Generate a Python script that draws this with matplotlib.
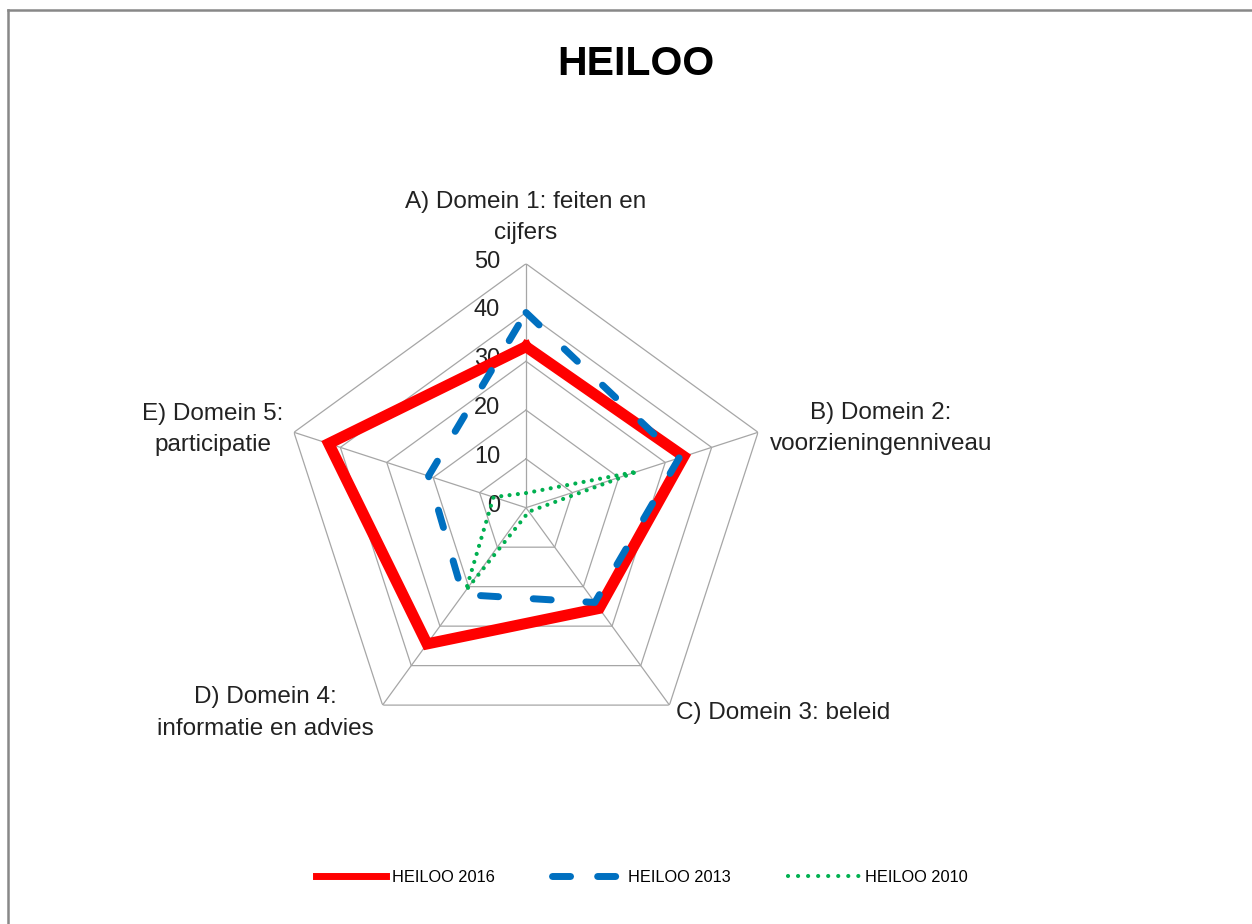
import numpy as np
import matplotlib
matplotlib.use("Agg")
import matplotlib.pyplot as plt
from matplotlib.lines import Line2D

# data
categories = ["A) Domein 1: feiten en\ncijfers",
              "B) Domein 2:\nvoorzieningenniveau",
              "C) Domein 3: beleid",
              "D) Domein 4:\ninformatie en advies",
              "E) Domein 5:\nparticipatie"]
heiloo_2016 = [33, 34, 25.5, 34.5, 42.5]
heiloo_2013 = [40, 33, 24, 22, 21]
heiloo_2010 = [3, 24, 1, 21, 7]
rings = [0, 10, 20, 30, 40, 50]

plt.rcParams["font.family"] = ["Liberation Sans", "DejaVu Sans"]

red = "#FF0000"
blue = "#0070C0"
green = "#00B050"
gridc = "#A6A6A6"

fig = plt.figure(figsize=(12.52, 9.24), dpi=100)

# centre of the radar at (526, 508) px, radius 244 px
cx, cy, rad = 526 / 1252, 1 - 507.7 / 924, 244
ax = fig.add_axes([cx - rad / 1252, cy - rad / 924, 2 * rad / 1252, 2 * rad / 924],
                  projection="polar")
ax.set_theta_zero_location("N")
ax.set_theta_direction(-1)
ax.set_ylim(0, 50)
ax.grid(False)
ax.set_xticks([])
ax.set_yticks([])
ax.spines["polar"].set_visible(False)
ax.patch.set_alpha(0)

n = len(categories)
theta = np.arange(n) * 2 * np.pi / n
tc = np.append(theta, theta[0])

# polygon grid
for r in rings[1:]:
    ax.plot(tc, [r] * (n + 1), color=gridc, lw=0.9, zorder=1)
for t in theta:
    ax.plot([t, t], [0, rings[-1]], color=gridc, lw=0.9, zorder=1)

# tick labels on the A spoke
for r in rings:
    ax.annotate(str(r), xy=(0, r), xytext=(-26, 2), textcoords="offset pixels",
                ha="right", va="center", fontsize=17, color="#222222")

def closed(v):
    return list(v) + [v[0]]

l1, = ax.plot(tc, closed(heiloo_2016), color=red, lw=8, solid_joinstyle="miter",
              label="HEILOO 2016", zorder=3)
l2, = ax.plot(tc, closed(heiloo_2013), color=blue, lw=5, linestyle=(0, (2.6, 5.0)),
              dash_capstyle="round", label="HEILOO 2013", zorder=4)
l3, = ax.plot(tc, closed(heiloo_2010), color=green, lw=3, linestyle=(0, (0.01, 2.0)),
              dash_capstyle="round", label="HEILOO 2010", zorder=5)

# category labels, offsets from outer ring vertex in pixels
label_off = [(0, 46), (123, 4), (114, -8), (-117, -8), (-81, 3)]
for t, lab, off in zip(theta, categories, label_off):
    ax.annotate(lab, xy=(t, 50), xytext=off, textcoords="offset pixels",
                ha="center", va="center", fontsize=17.5, linespacing=1.55,
                color="#222222", annotation_clip=False)

fig.text(636 / 1252, 1 - 64 / 924, "HEILOO", ha="center", va="center",
         fontsize=29.5, fontweight="bold", color="black")

leg = fig.legend(handles=[l1, l2, l3], loc="center", ncol=3, frameon=False,
                 bbox_to_anchor=(641.5 / 1252, 1 - 877 / 924), fontsize=11.8,
                 handlelength=4.3, handletextpad=0.35, columnspacing=3.5)
lh = leg.get_lines()
lh[0].set_linewidth(5)
lh[1].set_linewidth(5)
lh[1].set_linestyle((0, (2.6, 3.9)))
lh[2].set_linewidth(3)
lh[2].set_linestyle((0, (0.01, 2.4)))

# outer frame (top and left edges visible)
fig.add_artist(Line2D([8 / 1252, 1], [1 - 10 / 924] * 2, color="#888888", lw=1.8,
                      transform=fig.transFigure))
fig.add_artist(Line2D([8 / 1252] * 2, [0, 1 - 10 / 924], color="#888888", lw=1.8,
                      transform=fig.transFigure))

fig.savefig("out.png", dpi=100, facecolor="white")
